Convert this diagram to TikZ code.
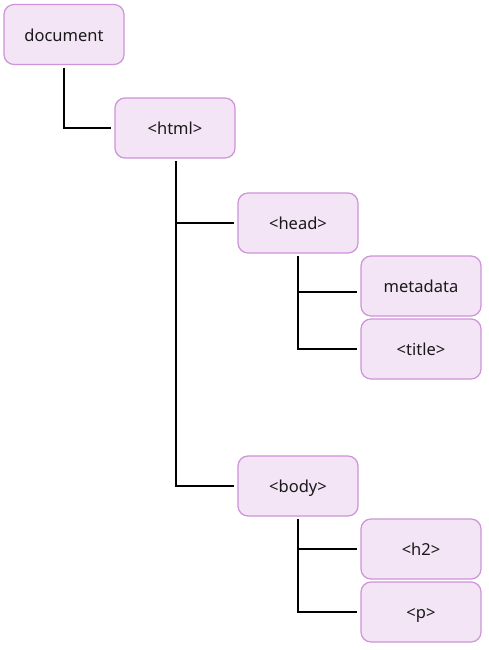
\documentclass[tikz,border=0pt]{standalone}
\usepackage{fontspec}
\setmainfont{Noto Sans}
\definecolor{boxfill}{HTML}{F3E5F5}
\definecolor{boxline}{HTML}{CE93D8}
\begin{document}
\begin{tikzpicture}[x=1pt,y=-1pt,
  treebox/.style={draw=boxline, fill=boxfill, line width=1.2pt, rounded corners=10pt,
    minimum width=120pt, minimum height=60pt, inner sep=0pt, text height=13.4pt, text depth=0pt,
    font=\fontsize{16.5}{20}\selectfont, text=black!90},
  link/.style={draw=black, line width=1.5pt, shorten <=2.5pt, shorten >=3pt}]
\useasboundingbox[fill=white] (0,0) rectangle (489,650);
\node[treebox] (doc) at (64,34.5) {document};
\node[treebox] (html) at (175,128) {<html>};
\node[treebox] (head) at (298,223) {<head>};
\node[treebox] (meta) at (421,286) {metadata};
\node[treebox] (title) at (421,349) {<title>};
\node[treebox] (body) at (298,486) {<body>};
\node[treebox] (h2) at (421,549) {<h2>};
\node[treebox] (p) at (421,612) {<p>};
\coordinate (metain) at ([yshift=-6pt]meta.west);
\draw[link] (doc.south) |- (html.west);
\draw[link] ([xshift=1pt]html.south) |- (head.west);
\draw[link] ([xshift=1pt]html.south) |- (body.west);
\draw[link] (head.south) |- (metain);
\draw[link] (head.south) |- (title.west);
\draw[link] (body.south) |- (h2.west);
\draw[link] (body.south) |- (p.west);
\end{tikzpicture}
\end{document}
